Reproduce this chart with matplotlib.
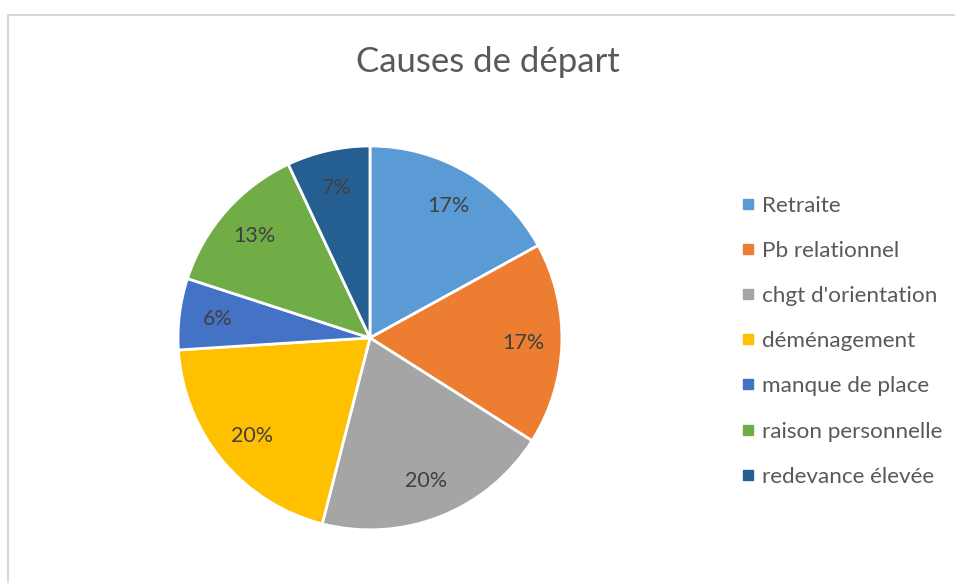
import matplotlib.pyplot as plt
from matplotlib.lines import Line2D

plt.rcParams['font.family'] = ['Lato', 'DejaVu Sans']

causes = ['Retraite', 'Pb relationnel', "chgt d'orientation", 'déménagement',
          'manque de place', 'raison personnelle', 'redevance élevée']
parts = [17, 17, 20, 20, 6, 13, 7]
colors = ['#5B9BD5', '#ED7D31', '#A5A5A5', '#FFC000', '#4472C4', '#70AD47', '#255E91']

fig = plt.figure(figsize=(9.55, 5.83), dpi=100)
ax = fig.add_axes([0.1864, 0.0909, 0.402, 0.659])

wedges, texts, autotexts = ax.pie(
    parts, colors=colors, startangle=90, counterclock=False,
    autopct='%d%%', pctdistance=0.8, radius=1,
    wedgeprops=dict(edgecolor='white', linewidth=2),
    textprops=dict(color='#404040', fontsize=15.5))
ax.set_xlim(-1, 1)
ax.set_ylim(-1, 1)
ax.set_aspect('equal')

fig.text(0.511, 0.894, 'Causes de départ', ha='center', va='center',
         fontsize=25, color='#595959')

handles = [Line2D([], [], marker='s', linestyle='', markersize=7,
                  markerfacecolor=c, markeredgecolor=c) for c in colors]
leg = fig.legend(handles, causes, loc='upper left', bbox_to_anchor=(0.768, 0.68),
                 frameon=False, fontsize=16.2, labelspacing=1.12,
                 handlelength=0.45, handletextpad=0.4, borderaxespad=0)
for t in leg.get_texts():
    t.set_color('#595959')

# chart frame
fig.add_artist(Line2D([0.008, 1.0], [1 - 15 / 583] * 2, color='#D9D9D9', linewidth=1.5))
fig.add_artist(Line2D([0.008, 0.008], [0, 1 - 15 / 583], color='#D9D9D9', linewidth=1.5))

fig.savefig('out.png', dpi=100)
